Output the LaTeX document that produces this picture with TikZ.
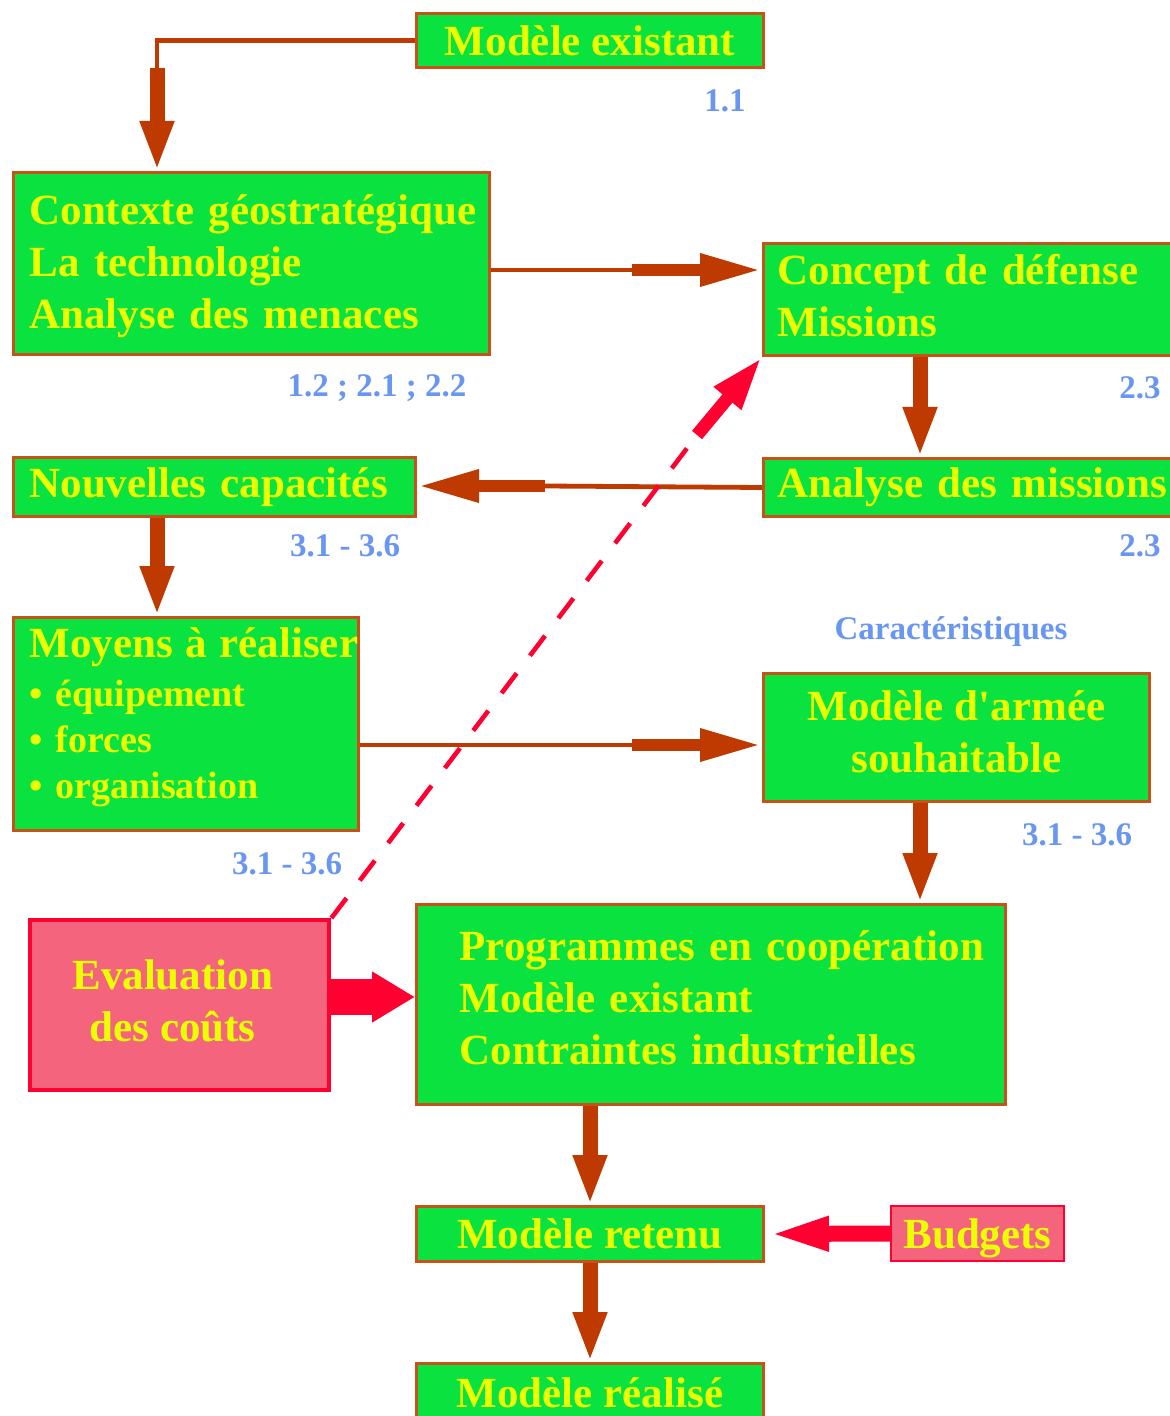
\documentclass[tikz,border=0pt]{standalone}
\usepackage{fontspec}
\newfontfamily\tnr{Liberation Serif}
\usetikzlibrary{arrows.meta}
\definecolor{gfill}{RGB}{10,227,63}
\definecolor{bordc}{RGB}{200,80,25}
\definecolor{ytext}{RGB}{235,255,0}
\definecolor{arrc}{RGB}{190,58,0}
\definecolor{redc}{RGB}{255,0,48}
\definecolor{pinkc}{RGB}{244,100,125}
\definecolor{bluec}{RGB}{105,150,240}
\begin{document}
\begin{tikzpicture}[x=0.5pt,y=-0.5pt,
  gbox/.style={draw=bordc, line width=1.5pt, fill=gfill, text=ytext, anchor=north west, inner ysep=0pt, inner xsep=2pt, font=\tnr\bfseries\fontsize{21.5}{26}\selectfont},
  pbox/.style={gbox, draw=redc, fill=pinkc},
  lbox/.style={gbox, align=left, inner xsep=8pt},
  numlab/.style={text=bluec, font=\tnr\bfseries\fontsize{16.5}{20}\selectfont, inner sep=0pt},
  thinline/.style={draw=arrc, line width=2.4pt},
  fatv/.style={draw=arrc, line width=7.5pt, -{Triangle[length=25pt,width=15.5pt]}},
  fath/.style={draw=arrc, line width=6pt, -{Triangle[length=31pt,width=15pt]}},
  reddash/.style={draw=redc, line width=2.3pt, dash pattern=on 12.5pt off 11pt},
  redfat/.style={draw=redc, line width=6.5pt, -{Triangle[length=27pt,width=16pt]}},
  redthick/.style={draw=redc, line width=18pt, -{Triangle[length=21.5pt,width=24pt]}},
  redmed/.style={draw=redc, line width=8pt, -{Triangle[length=32pt,width=15pt]}}
]
\useasboundingbox (0,0) rectangle (1170,1416);
\clip (0,0) rectangle (1170,1416);

% boxes
\node[gbox, minimum width=173.5pt, minimum height=27pt] (me) at (415,12) {Modèle existant};
\node[lbox, text width=222pt, minimum height=91pt] (ctx) at (12,171) {\rule{0pt}{18pt}\mbox{Contexte géostratégique}\\\mbox{La technologie}\\\mbox{Analyse des menaces}};
\node[lbox, inner xsep=7pt, text width=192.5pt, minimum height=56pt] (cdm) at (762,242) {\mbox{Concept de défense}\\Missions\rule[-4pt]{0pt}{4pt}};
\node[lbox, inner xsep=7pt, text width=192.5pt, minimum height=29pt] (adm) at (762,457) {\mbox{Analyse des missions}};
\node[lbox, text width=185pt, minimum height=29.5pt] (nc) at (12,456) {\mbox{Nouvelles capacités}};
\node[lbox, text width=156.5pt, minimum height=106.5pt, font=\tnr\bfseries\fontsize{19}{23}\selectfont] (mar) at (12,616) {{\fontsize{21.5}{26}\selectfont\mbox{Moyens à réaliser}}\\[1.5pt]• équipement\\• forces\\• organisation\rule[-10.5pt]{0pt}{10.5pt}};
\node[gbox, minimum width=193pt, minimum height=64pt, align=center] (mas) at (762,672) {Modèle d'armée\\souhaitable\rule[-6pt]{0pt}{6pt}};
\node[pbox, line width=2.2pt, minimum width=149.5pt, minimum height=85pt, align=center] (ev) at (28,918) {Evaluation\hspace*{7pt}\\des coûts\hspace*{7pt}\rule[-5pt]{0pt}{5pt}};
\node[lbox, inner xsep=21.5pt, text width=251.5pt, minimum height=100pt] (prog) at (415,903) {\mbox{Programmes en coopération}\\\mbox{Modèle existant}\\\mbox{Contraintes industrielles}\rule[-6.5pt]{0pt}{6.5pt}};
\node[gbox, minimum width=173.5pt, minimum height=27.5pt] (mr) at (415,1205) {Modèle retenu};
\node[pbox, line width=1pt, minimum width=86.5pt, minimum height=27.5pt] (bud) at (890,1205) {\rule{0pt}{19.5pt}Budgets};
\node[gbox, minimum width=173.5pt, minimum height=29pt] (mre) at (415,1362) {Modèle réalisé};

% labels
\node[numlab] (l1) at (725,101) {1.1};
\node[numlab] (l2) at (377,388) {1.2 ; 2.1 ; 2.2};
\node[numlab] (l3) at (1140,388) {2.3};
\node[numlab] (l4) at (345,546) {3.1 - 3.6};
\node[numlab] (l5) at (1140,546) {2.3};
\node[numlab] (l6) at (951,632) {Caractéristiques};
\node[numlab] (l7) at (1077,835) {3.1 - 3.6};
\node[numlab] (l8) at (287,864) {3.1 - 3.6};

% connectors
\coordinate (e1) at (157,68);
\draw[thinline] (me.west) -| (e1);
\draw[fatv] (e1) -- (e1 |- ctx.north);

\coordinate (j1) at (632,270);
\draw[thinline] (j1 -| ctx.east) -- (j1);
\draw[fath] (j1) -- (j1 -| cdm.west);

\coordinate (xa) at (920,0);
\draw[fatv] (xa |- cdm.south) -- (xa |- adm.north);

\coordinate (j2) at (545,486);
\draw[thinline] (adm.west) -- (j2);
\draw[fath] (j2) -- (nc.east |- j2);

\coordinate (xb) at (157,0);
\draw[fatv] (xb |- nc.south) -- (xb |- mar.north);

\coordinate (j3) at (632,745);
\draw[thinline] (j3 -| mar.east) -- (j3);
\draw[fath] (j3) -- (j3 -| mas.west);

\draw[fatv] (xa |- mas.south) -- (xa |- prog.north);

\coordinate (ya) at (370,997);
\draw[redthick] (ya -| ev.east) -- (ya -| prog.west);

\coordinate (xc) at (590,0);
\draw[fatv] (xc |- prog.south) -- (xc |- mr.north);
\draw[fatv] (xc |- mr.south) -- (xc |- mre.north);

\draw[redmed] (bud.west) -- (mr.east);

\coordinate (dj) at (697,435);
\draw[reddash] (ev.north east) -- (dj);
\draw[redfat] (dj) -- (cdm.south west);
\end{tikzpicture}
\end{document}
